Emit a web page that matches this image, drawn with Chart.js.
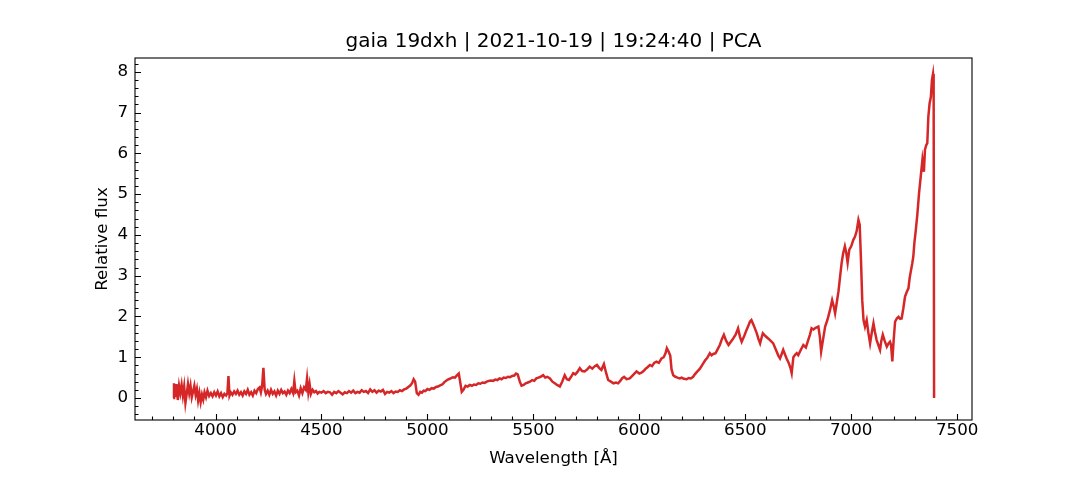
<!DOCTYPE html>
<html>
<head>
<meta charset="utf-8">
<script src="https://cdn.jsdelivr.net/npm/chart.js@4.4.1/dist/chart.umd.min.js"></script>
<style>
  html, body { margin: 0; padding: 0; background: #fff; }
  #wrap { width: 1080px; height: 480px; position: relative; }
</style>
</head>
<body>
<div id="wrap"><canvas id="spec"></canvas></div>
<script>
// ── Data ──────────────────────────────────────────────────────────────────
const TITLE = 'gaia 19dxh | 2021-10-19 | 19:24:40 | PCA';

const wavelength = [
  3800, 3804, 3810, 3816, 3822, 3828, 3834, 3840, 3846, 3852, 3858, 3864, 3870, 3876, 3882, 3888,
  3894, 3900, 3906, 3912, 3918, 3924, 3930, 3936, 3942, 3948, 3955, 3962, 3970, 3978, 3986, 3994,
  4002, 4010, 4018, 4026, 4034, 4042, 4050, 4056, 4061, 4066, 4072, 4080, 4088, 4096, 4104, 4112,
  4120, 4128, 4136, 4144, 4152, 4160, 4168, 4176, 4184, 4192, 4200, 4208, 4214, 4220, 4226, 4232,
  4238, 4246, 4254, 4262, 4270, 4278, 4286, 4294, 4302, 4310, 4318, 4326, 4334, 4342, 4350, 4358,
  4366, 4372, 4378, 4386, 4394, 4402, 4410, 4418, 4426, 4432, 4438, 4444, 4450, 4458, 4466, 4474,
  4482, 4490, 4500, 4510, 4520, 4530, 4540, 4550, 4560, 4570, 4580, 4590, 4600, 4610, 4620, 4630,
  4640, 4650, 4660, 4670, 4680, 4690, 4700, 4710, 4720, 4730, 4740, 4750, 4760, 4770, 4780, 4790,
  4800, 4810, 4820, 4830, 4840, 4850, 4860, 4870, 4880, 4890, 4900, 4910, 4920, 4928, 4935, 4942,
  4950, 4958, 4966, 4974, 4982, 4990, 5000, 5010, 5020, 5030, 5040, 5050, 5060, 5070, 5080, 5090,
  5100, 5110, 5120, 5130, 5140, 5148, 5156, 5162, 5170, 5180, 5190, 5200, 5210, 5220, 5230, 5240,
  5250, 5260, 5270, 5280, 5290, 5300, 5310, 5320, 5330, 5340, 5350, 5360, 5370, 5380, 5390, 5400,
  5410, 5418, 5426, 5436, 5444, 5454, 5464, 5474, 5484, 5494, 5504, 5514, 5524, 5534, 5546, 5556,
  5566, 5578, 5590, 5601, 5612, 5625, 5636, 5648, 5658, 5668, 5678, 5688, 5698, 5708, 5719, 5730,
  5742, 5754, 5766, 5778, 5790, 5800, 5810, 5821, 5833, 5843, 5853, 5866, 5878, 5890, 5900, 5910,
  5918, 5928, 5940, 5955, 5970, 5987, 6000, 6010, 6020, 6030, 6040, 6050, 6060, 6070, 6081, 6092,
  6105, 6115, 6124, 6130, 6138, 6146, 6152, 6160, 6170, 6180, 6191, 6200, 6210, 6223, 6233, 6243,
  6254, 6262, 6272, 6286, 6298, 6310, 6320, 6333, 6341, 6349, 6360, 6370, 6380, 6390, 6399, 6410,
  6421, 6432, 6443, 6455, 6466, 6475, 6483, 6495, 6506, 6515, 6522, 6529, 6540, 6554, 6562, 6570,
  6576, 6583, 6595, 6608, 6620, 6632, 6640, 6648, 6656, 6664, 6672, 6679, 6688, 6695, 6705, 6713,
  6719, 6727, 6735, 6743, 6750, 6762, 6774, 6786, 6797, 6805, 6813, 6822, 6832, 6845, 6852, 6858,
  6866, 6877, 6888, 6900, 6910, 6918, 6924, 6932, 6940, 6948, 6955, 6962, 6970, 6977, 6983, 6991,
  7000, 7010, 7018, 7026, 7034, 7040, 7046, 7052, 7058, 7065, 7073, 7081, 7089, 7097, 7105, 7112,
  7120, 7128, 7136, 7142, 7149, 7158, 7168, 7176, 7183, 7188, 7194, 7200, 7207, 7215, 7223, 7231,
  7238, 7246, 7254, 7262, 7270, 7276, 7281, 7288, 7293, 7298, 7304, 7312, 7320, 7328, 7336, 7343,
  7348, 7354, 7359, 7364, 7370, 7376, 7381, 7386, 7389, 7391,
];

const flux = [
  0.00, 0.36, 0.02, 0.34, -0.05, 0.30, 0.12, 0.32, 0.06, 0.28, -0.12, 0.10, 0.34, 0.12, 0.30, 0.02,
  0.16, 0.30, 0.08, 0.22, -0.06, 0.12, -0.10, 0.08, -0.04, 0.14, 0.02, 0.18, 0.05, 0.12, 0.04, 0.14,
  0.06, 0.16, 0.04, 0.12, 0.02, 0.10, 0.06, 0.12, 0.54, 0.06, 0.14, 0.08, 0.16, 0.10, 0.18, 0.08,
  0.14, 0.06, 0.16, 0.10, 0.20, 0.08, 0.14, 0.06, 0.18, 0.12, 0.22, 0.26, 0.14, 0.30, 0.74, 0.20,
  0.10, 0.18, 0.08, 0.20, 0.10, 0.16, 0.06, 0.18, 0.10, 0.20, 0.12, 0.16, 0.08, 0.18, 0.12, 0.22,
  0.12, 0.42, 0.14, 0.18, 0.06, 0.24, 0.12, 0.26, 0.20, 0.48, 0.14, 0.34, 0.10, 0.20, 0.14, 0.17,
  0.11, 0.15, 0.13, 0.17, 0.12, 0.15, 0.14, 0.08, 0.15, 0.12, 0.17, 0.13, 0.09, 0.14, 0.12, 0.17,
  0.13, 0.18, 0.12, 0.15, 0.13, 0.19, 0.15, 0.17, 0.12, 0.21, 0.15, 0.19, 0.13, 0.18, 0.16, 0.20,
  0.10, 0.15, 0.13, 0.17, 0.12, 0.16, 0.15, 0.19, 0.17, 0.21, 0.23, 0.27, 0.31, 0.37, 0.46, 0.40,
  0.12, 0.08, 0.15, 0.13, 0.18, 0.17, 0.22, 0.20, 0.24, 0.23, 0.27, 0.28, 0.31, 0.33, 0.39, 0.43,
  0.46, 0.48, 0.51, 0.50, 0.56, 0.60, 0.35, 0.15, 0.20, 0.30, 0.28, 0.32, 0.30, 0.33, 0.32, 0.36,
  0.35, 0.38, 0.37, 0.40, 0.42, 0.43, 0.42, 0.45, 0.44, 0.48, 0.46, 0.50, 0.49, 0.52, 0.51, 0.54,
  0.55, 0.60, 0.58, 0.40, 0.30, 0.32, 0.36, 0.38, 0.40, 0.44, 0.42, 0.48, 0.50, 0.52, 0.56, 0.50,
  0.52, 0.48, 0.40, 0.36, 0.32, 0.28, 0.40, 0.56, 0.46, 0.44, 0.52, 0.61, 0.58, 0.64, 0.73, 0.66,
  0.65, 0.70, 0.77, 0.72, 0.78, 0.81, 0.74, 0.69, 0.83, 0.62, 0.44, 0.40, 0.36, 0.38, 0.36, 0.42,
  0.48, 0.52, 0.46, 0.48, 0.56, 0.65, 0.60, 0.62, 0.66, 0.72, 0.76, 0.81, 0.78, 0.86, 0.89, 0.86,
  0.97, 1.00, 1.10, 1.22, 1.14, 1.04, 0.70, 0.56, 0.52, 0.50, 0.48, 0.50, 0.47, 0.46, 0.49, 0.48,
  0.52, 0.58, 0.64, 0.72, 0.82, 0.92, 0.98, 1.10, 1.05, 1.08, 1.10, 1.20, 1.30, 1.45, 1.55, 1.40,
  1.30, 1.38, 1.46, 1.56, 1.71, 1.50, 1.38, 1.52, 1.67, 1.78, 1.87, 1.91, 1.78, 1.59, 1.45, 1.34,
  1.46, 1.59, 1.52, 1.46, 1.40, 1.34, 1.24, 1.14, 1.04, 0.97, 1.08, 1.18, 1.06, 0.97, 0.86, 0.74,
  0.61, 1.00, 1.06, 1.10, 1.05, 1.18, 1.30, 1.24, 1.42, 1.55, 1.71, 1.68, 1.72, 1.75, 1.50, 1.14,
  1.40, 1.75, 1.92, 2.16, 2.40, 2.24, 2.08, 2.35, 2.62, 3.00, 3.32, 3.55, 3.72, 3.55, 3.32, 3.64,
  3.72, 3.88, 3.96, 4.10, 4.37, 4.25, 3.40, 2.40, 1.91, 1.75, 1.91, 1.60, 1.34, 1.60, 1.83, 1.62,
  1.42, 1.30, 1.18, 1.40, 1.55, 1.40, 1.26, 1.34, 1.38, 1.30, 0.90, 1.40, 1.87, 1.95, 1.99, 1.94,
  1.95, 2.20, 2.49, 2.60, 2.69, 2.95, 3.10, 3.30, 3.47, 3.80, 4.08, 4.50, 5.02, 5.43, 5.84, 5.55,
  6.09, 6.20, 6.25, 6.90, 7.23, 7.39, 7.80, 7.95, 7.72, 0.00,
];

const xTicks = [4000, 4500, 5000, 5500, 6000, 6500, 7000, 7500];
const yTicks = [0, 1, 2, 3, 4, 5, 6, 7, 8];

// ── Style ─────────────────────────────────────────────────────────────────
const FONT  = "'DejaVu Sans', sans-serif";
const RED   = '#d62728';
const MAJOR = 6;
const MINOR = 3.5;

// Inward major/minor ticks plus the full axes frame (matplotlib look)
const frameTicks = {
  id: 'frameTicks',
  afterDatasetsDraw(chart) {
    const { ctx, chartArea: a, scales: { x, y } } = chart;
    ctx.save();
    ctx.strokeStyle = '#000';
    ctx.lineWidth = 1.1;
    ctx.beginPath();
    for (let v = Math.ceil(x.min / 100) * 100; v <= x.max; v += 100) {
      const px = Math.round(x.getPixelForValue(v)) + 0.5;
      const len = xTicks.includes(v) ? MAJOR : MINOR;
      ctx.moveTo(px, a.bottom);
      ctx.lineTo(px, a.bottom - len);
    }
    for (let i = Math.ceil(y.min * 5); i <= Math.floor(y.max * 5); i++) {
      const py = Math.round(y.getPixelForValue(i / 5)) + 0.5;
      const len = i % 5 === 0 ? MAJOR : MINOR;
      ctx.moveTo(a.left, py);
      ctx.lineTo(a.left + len, py);
    }
    ctx.stroke();
    ctx.strokeRect(a.left, a.top, a.right - a.left, a.bottom - a.top);
    ctx.restore();
  },
};

// Title centred over the axes box, not the whole canvas
const axesTitle = {
  id: 'axesTitle',
  afterDraw(chart) {
    const { ctx, chartArea: a } = chart;
    ctx.save();
    ctx.fillStyle = '#000';
    ctx.font = `20px ${FONT}`;
    ctx.textAlign = 'center';
    ctx.textBaseline = 'middle';
    ctx.fillText(TITLE, (a.left + a.right) / 2, 42);
    ctx.restore();
  },
};

Chart.defaults.font.family = FONT;
Chart.defaults.color = '#000';

new Chart(document.getElementById('spec'), {
  type: 'line',
  data: {
    datasets: [{
      data: wavelength.map((w, i) => ({ x: w, y: flux[i] })),
      borderColor: RED,
      borderWidth: 2.5,
      pointRadius: 0,
      tension: 0,
      fill: false,
    }],
  },
  options: {
    responsive: true,
    maintainAspectRatio: false,
    animation: false,
    layout: { padding: { left: 0, right: 108, top: 58, bottom: 0 } },
    plugins: {
      legend: { display: false },
      tooltip: { enabled: false },
      title: { display: false },
    },
    scales: {
      x: {
        type: 'linear',
        min: 3620,
        max: 7570,
        grid: { display: false, drawTicks: false },
        border: { display: false },
        afterBuildTicks: s => { s.ticks = xTicks.map(v => ({ value: v })); },
        afterFit: s => { s.height = 60; },
        ticks: {
          padding: 1,
          maxRotation: 0,
          autoSkip: false,
          font: { family: FONT, size: 16.7 },
          callback: v => String(v),
        },
        title: {
          display: true,
          text: 'Wavelength [Å]',
          font: { family: FONT, size: 16.7 },
          padding: { top: 0, bottom: 11 },
        },
      },
      y: {
        type: 'linear',
        min: -0.54,
        max: 8.34,
        grid: { display: false, drawTicks: false },
        border: { display: false },
        afterBuildTicks: s => { s.ticks = yTicks.map(v => ({ value: v })); },
        afterFit: s => { s.width = 135; },
        ticks: {
          padding: 7,
          autoSkip: false,
          font: { family: FONT, size: 16.7 },
          callback: v => String(v),
        },
        title: {
          display: true,
          text: 'Relative flux',
          font: { family: FONT, size: 16.7 },
          padding: { top: 93, bottom: 0 },
        },
      },
    },
  },
  plugins: [frameTicks, axesTitle],
});
</script>
</body>
</html>
